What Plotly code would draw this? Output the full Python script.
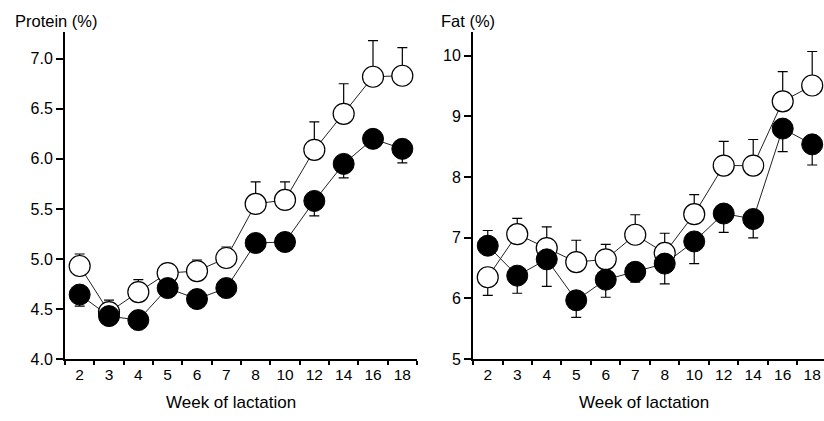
import plotly.graph_objects as go

weeks = ["2", "3", "4", "5", "6", "7", "8", "10", "12", "14", "16", "18"]

# Protein (%) - open circles (upper error bars) and filled circles (lower error bars)
protein_open = [4.93, 4.47, 4.67, 4.86, 4.88, 5.01, 5.55, 5.59, 6.09, 6.45, 6.82, 6.83]
protein_open_err = [0.12, 0.12, 0.125, 0.09, 0.11, 0.11, 0.22, 0.18, 0.28, 0.30, 0.36, 0.28]
protein_filled = [4.645, 4.43, 4.39, 4.71, 4.60, 4.71, 5.16, 5.17, 5.58, 5.95, 6.20, 6.10]
protein_filled_err = [0.115, 0.06, 0.06, 0.06, 0.06, 0.06, 0.07, 0.07, 0.15, 0.14, 0.08, 0.14]

# Fat (%)
fat_open = [6.35, 7.06, 6.83, 6.60, 6.645, 7.05, 6.75, 7.39, 8.19, 8.19, 9.25, 9.51]
fat_open_up = [0.0, 0.26, 0.35, 0.36, 0.245, 0.33, 0.325, 0.32, 0.40, 0.43, 0.49, 0.56]
fat_open_down = [0.30, 0, 0, 0, 0, 0, 0, 0, 0, 0, 0, 0]
fat_filled = [6.87, 6.376, 6.645, 5.97, 6.31, 6.44, 6.575, 6.94, 7.40, 7.31, 8.80, 8.54]
fat_filled_up = [0.25, 0, 0, 0, 0, 0, 0, 0, 0, 0, 0, 0]
fat_filled_down = [0.0, 0.29, 0.445, 0.28, 0.29, 0.17, 0.335, 0.365, 0.31, 0.31, 0.38, 0.34]

protein_ticks = [4.0, 4.5, 5.0, 5.5, 6.0, 6.5, 7.0]
fat_ticks = [5, 6, 7, 8, 9, 10]

FONT = "Liberation Sans, Arial, sans-serif"
LINE_COL = "#222222"
MSIZE = 21

fig = go.Figure()


def add_panel(xa, ya, open_y, open_up, open_down, filled_y, filled_up, filled_down):
    for yv in (open_y, filled_y):
        fig.add_trace(go.Scatter(
            x=weeks, y=yv, mode="lines", xaxis=xa, yaxis=ya,
            line=dict(color=LINE_COL, width=1), hoverinfo="skip", cliponaxis=False))
    fig.add_trace(go.Scatter(
        x=weeks, y=open_y, mode="markers", xaxis=xa, yaxis=ya, cliponaxis=False,
        marker=dict(size=MSIZE, color="white", line=dict(color="black", width=1.2)),
        error_y=dict(type="data", symmetric=False, array=open_up, arrayminus=open_down,
                     color="black", thickness=1.2, width=5)))
    fig.add_trace(go.Scatter(
        x=weeks, y=filled_y, mode="markers", xaxis=xa, yaxis=ya, cliponaxis=False,
        marker=dict(size=MSIZE, color="black", line=dict(color="black", width=1)),
        error_y=dict(type="data", symmetric=False, array=filled_up, arrayminus=filled_down,
                     color="black", thickness=1.2, width=5)))


add_panel("x", "y", protein_open, protein_open_err, [0] * len(weeks),
          protein_filled, [0] * len(weeks), protein_filled_err)
add_panel("x2", "y2", fat_open, fat_open_up, fat_open_down,
          fat_filled, fat_filled_up, fat_filled_down)

W, H = 824, 421
y_dom = [(H - 367) / H, (H - 33) / H]

xcommon = dict(type="category", categoryorder="array", categoryarray=weeks,
               tickson="boundaries", ticks="outside", ticklen=4,
               tickwidth=1.5, tickcolor="black", showline=True, linewidth=2,
               linecolor="black", showgrid=False, zeroline=False,
               tickfont=dict(family=FONT, size=15.5, color="black"))
ycommon = dict(ticks="outside", ticklen=7, tickwidth=1.5, tickcolor="black",
               showline=True, linewidth=2, linecolor="black", showgrid=False,
               zeroline=False, tickfont=dict(family=FONT, size=16, color="black"))

fig.update_layout(
    width=W, height=H, margin=dict(l=0, r=0, t=0, b=0),
    paper_bgcolor="white", plot_bgcolor="white", showlegend=False,
    font=dict(family=FONT, color="black"),
    xaxis=dict(domain=[65 / W, 417 / W], anchor="y", range=[-0.5, 11.5], **xcommon),
    yaxis=dict(domain=y_dom, anchor="x", range=[4.0, 7.264], tickvals=protein_ticks,
               tickformat=".1f", **ycommon),
    xaxis2=dict(domain=[473 / W, 1.0], anchor="y2", range=[-0.5, 11.4], **xcommon),
    yaxis2=dict(domain=y_dom, anchor="x2", range=[5.0, 10.387], tickvals=fat_ticks,
                tickformat="d", **ycommon),
    annotations=[
        dict(text="Protein (%)", x=13 / W, y=(H - 21) / H, xref="paper", yref="paper",
             xanchor="left", yanchor="middle", showarrow=False,
             font=dict(family=FONT, size=16.5, color="black")),
        dict(text="Fat (%)", x=439 / W, y=(H - 21) / H, xref="paper", yref="paper",
             xanchor="left", yanchor="middle", showarrow=False,
             font=dict(family=FONT, size=16.5, color="black")),
        dict(text="Week of lactation", x=231 / W, y=(H - 411) / H, xref="paper",
             yref="paper", xanchor="center", yanchor="middle", showarrow=False,
             font=dict(family=FONT, size=17, color="black")),
        dict(text="Week of lactation", x=644 / W, y=(H - 411) / H, xref="paper",
             yref="paper", xanchor="center", yanchor="middle", showarrow=False,
             font=dict(family=FONT, size=17, color="black")),
    ],
)

fig.write_html(
    "out.html",
    config={"displayModeBar": False},
    post_script="document.body.style.margin='0';document.body.style.overflow='hidden';",
)
